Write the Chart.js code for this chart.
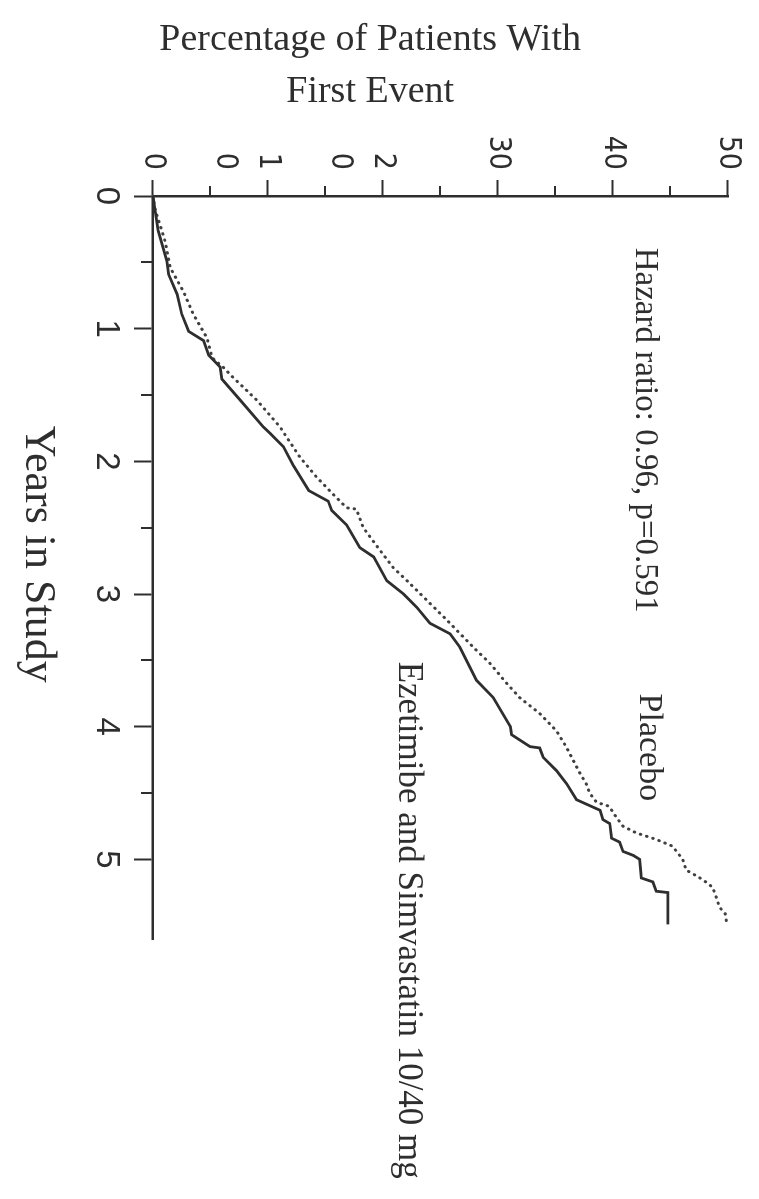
<!DOCTYPE html>
<html>
<head>
<meta charset="utf-8">
<script src="https://cdn.jsdelivr.net/npm/chart.js@4.4.1/dist/chart.umd.min.js"></script>
<style>
    html, body { margin: 0; padding: 0; background: #fff; }
    #wrap { position: relative; width: 759px; height: 1199px; overflow: hidden; }
    /* the figure is printed turned a quarter turn clockwise */
    #kmChart { position: absolute; left: 0; top: 0; transform-origin: 0 0; transform: translateX(759px) rotate(90deg); }
</style>
</head>
<body>
<div id="wrap"><canvas id="kmChart" width="1199" height="759"></canvas></div>
<script>
// Ezetimibe and Simvastatin 10/40 mg (solid)
var ezeYears = [ 0, 0.06, 0.26, 0.49, 0.59, 0.74, 0.89, 1.02, 1.09, 1.20, 1.29, 1.38, 1.54, 1.74, 1.79, 1.89, 2.03, 2.22, 2.30, 2.37, 2.48, 2.65, 2.72, 2.90, 3.00, 3.10, 3.22, 3.30, 3.40, 3.65, 3.78, 4.00, 4.06, 4.15, 4.16, 4.23, 4.33, 4.43, 4.55, 4.63, 4.70, 4.73, 4.84, 4.87, 4.94, 4.97, 5.00, 5.14, 5.17, 5.24, 5.25, 5.49 ];
var ezePct = [ 0, 0.1, 0.45, 1.2, 1.35, 2.1, 2.5, 3.1, 4.4, 4.85, 5.85, 6.0, 7.6, 9.6, 10.2, 11.35, 12.2, 13.55, 15.25, 15.55, 16.85, 18.0, 19.2, 20.35, 21.8, 22.95, 24.1, 25.85, 26.7, 28.15, 29.6, 31.1, 31.2, 32.8, 33.65, 33.95, 35.1, 36.0, 36.85, 38.9, 39.15, 39.75, 39.9, 40.6, 40.9, 41.8, 42.35, 42.5, 43.5, 43.8, 44.8, 44.8 ];

// Placebo (dotted)
var placeboYears = [ 0, 0.09, 0.34, 0.54, 0.72, 0.89, 1.07, 1.22, 1.29, 1.37, 1.54, 1.74, 1.82, 1.97, 2.12, 2.25, 2.35, 2.36, 2.50, 2.67, 2.80, 2.92, 3.07, 3.22, 3.40, 3.52, 3.67, 3.78, 3.90, 4.03, 4.15, 4.25, 4.35, 4.43, 4.50, 4.57, 4.60, 4.68, 4.75, 4.80, 4.85, 4.90, 5.00, 5.08, 5.15, 5.21, 5.28, 5.36, 5.41, 5.47 ];
var placeboPct = [ 0, 0.15, 1.05, 1.5, 2.65, 3.5, 4.7, 5.15, 6.1, 7.0, 9.05, 11.05, 11.65, 12.8, 14.25, 15.7, 16.85, 17.7, 18.3, 19.75, 20.9, 22.35, 24.1, 25.85, 27.86, 29.3, 30.75, 31.9, 33.65, 35.1, 35.95, 36.55, 37.15, 37.7, 38.0, 38.6, 39.7, 40.3, 40.9, 42.05, 43.8, 45.2, 46.1, 46.4, 47.8, 48.7, 49.0, 49.3, 49.8, 49.9 ];

// axis ticks
var yearTicks = [ 0, 1, 2, 3, 4, 5 ];
var yearMinorTicks = [ 0.5, 1.5, 2.5, 3.5, 4.5 ];
var pctTicks = [ 0, 10, 20, 30, 40, 50 ];
var pctMinorTicks = [ 5, 15, 25, 35, 45 ];
// 10 and 20 are printed with their digits stacked in the source figure
var pctTickLabels = [ '0', [ '', '1', '0' ], [ '', '2', '0' ], '30', '40', '50' ];

var pctTitle = [ 'Percentage of Patients With', 'First Event' ];
var yearTitle = 'Years in Study';
var hazardText = 'Hazard ratio: 0.96, p=0.591';
var placeboLabel = 'Placebo';
var ezeLabel = 'Ezetimibe and Simvastatin 10/40 mg';

var INK = '#2e2e2e';

function toPoints ( xs, ys )
{
    return xs.map( function ( x, i ) { return { x: x, y: ys[ i ] }; } );
}

var kmText = {
    id: 'kmText',
    afterDraw: function ( chart )
    {
        var ctx = chart.ctx;
        var xs = chart.scales.x;
        var ys = chart.scales.y;
        ctx.save();
        ctx.strokeStyle = INK;
        ctx.fillStyle = INK;

        // short minor ticks
        ctx.lineWidth = 2;
        ctx.beginPath();
        yearMinorTicks.forEach( function ( v )
        {
            var px = Math.round( xs.getPixelForValue( v ) );
            ctx.moveTo( px, xs.top );
            ctx.lineTo( px, xs.top + 12 );
        } );
        pctMinorTicks.forEach( function ( v )
        {
            var py = Math.round( ys.getPixelForValue( v ) );
            ctx.moveTo( ys.right, py );
            ctx.lineTo( ys.right - 10, py );
        } );
        ctx.stroke();

        ctx.textAlign = 'center';
        ctx.textBaseline = 'middle';

        // y axis title, two lines
        ctx.font = '38px "Liberation Serif", "Times New Roman", serif';
        var ty = ys.getPixelForValue( 18.9 );
        [ 40, 92 ].forEach( function ( tx, i )
        {
            ctx.save();
            ctx.translate( tx, ty );
            ctx.rotate( -Math.PI / 2 );
            ctx.fillText( pctTitle[ i ], 0, 0 );
            ctx.restore();
        } );

        // x axis title
        ctx.font = '44px "Liberation Serif", "Times New Roman", serif';
        ctx.fillText( yearTitle, xs.getPixelForValue( 2.7 ), 721 );

        // curve labels
        ctx.textAlign = 'left';
        ctx.font = '33px "Liberation Serif", "Times New Roman", serif';
        ctx.fillText( hazardText, xs.getPixelForValue( 0.39 ), ys.getPixelForValue( 42.8 ) );
        ctx.font = '34px "Liberation Serif", "Times New Roman", serif';
        ctx.fillText( placeboLabel, xs.getPixelForValue( 3.75 ), ys.getPixelForValue( 43.2 ) );
        ctx.font = '35px "Liberation Serif", "Times New Roman", serif';
        ctx.fillText( ezeLabel, xs.getPixelForValue( 3.51 ), ys.getPixelForValue( 22.2 ) );

        ctx.restore();
    }
};

var kmCanvas = document.getElementById( 'kmChart' );

var kmChart = new Chart( kmCanvas.getContext( '2d' ), {
    type: 'line',
    data: {
        datasets: [ {
            label: ezeLabel,
            data: toPoints( ezeYears, ezePct ),
            borderColor: INK,
            borderWidth: 2.8,
            pointRadius: 0,
            tension: 0,
            fill: false,
            clip: false
        }, {
            label: placeboLabel,
            data: toPoints( placeboYears, placeboPct ),
            borderColor: '#404040',
            borderWidth: 3,
            borderDash: [ 0.5, 6 ],
            borderCapStyle: 'round',
            pointRadius: 0,
            tension: 0,
            fill: false,
            clip: false
        } ]
    },
    options: {
        responsive: false,
        animation: false,
        devicePixelRatio: 1,
        layout: { padding: { top: 27, right: 260, bottom: 0, left: 0 } },
        plugins: {
            legend: { display: false },
            tooltip: { enabled: false }
        },
        scales: {
            x: {
                type: 'linear',
                position: 'bottom',
                min: 0,
                max: 5.6,
                afterBuildTicks: function ( scale )
                {
                    scale.ticks = yearTicks.map( function ( v ) { return { value: v }; } );
                },
                afterFit: function ( scale ) { scale.height = 153; },
                grid: { drawOnChartArea: false, drawTicks: true, tickLength: 19, tickWidth: 2, tickColor: INK },
                border: { display: true, color: INK, width: 2.5 },
                ticks: {
                    color: INK,
                    padding: 8,
                    maxRotation: 0,
                    autoSkip: false,
                    font: { family: '"Liberation Sans", Arial, sans-serif', size: 33 },
                    callback: function ( value, index ) { return String( yearTicks[ index ] ); }
                }
            },
            y: {
                type: 'linear',
                position: 'left',
                min: 0,
                max: 50,
                afterBuildTicks: function ( scale )
                {
                    scale.ticks = pctTicks.map( function ( v ) { return { value: v }; } );
                },
                afterFit: function ( scale ) { scale.width = 196; },
                grid: { drawOnChartArea: false, drawTicks: true, tickLength: 16, tickWidth: 2, tickColor: INK },
                border: { display: true, color: INK, width: 2.5 },
                ticks: {
                    color: INK,
                    padding: 10,
                    autoSkip: false,
                    font: { family: '"Liberation Sans Narrow", "DejaVu Sans Condensed", "Liberation Sans", sans-serif', size: 30, lineHeight: 1.43 },
                    callback: function ( value, index ) { return pctTickLabels[ index ]; }
                }
            }
        }
    },
    plugins: [ kmText ]
} );
</script>
</body>
</html>
